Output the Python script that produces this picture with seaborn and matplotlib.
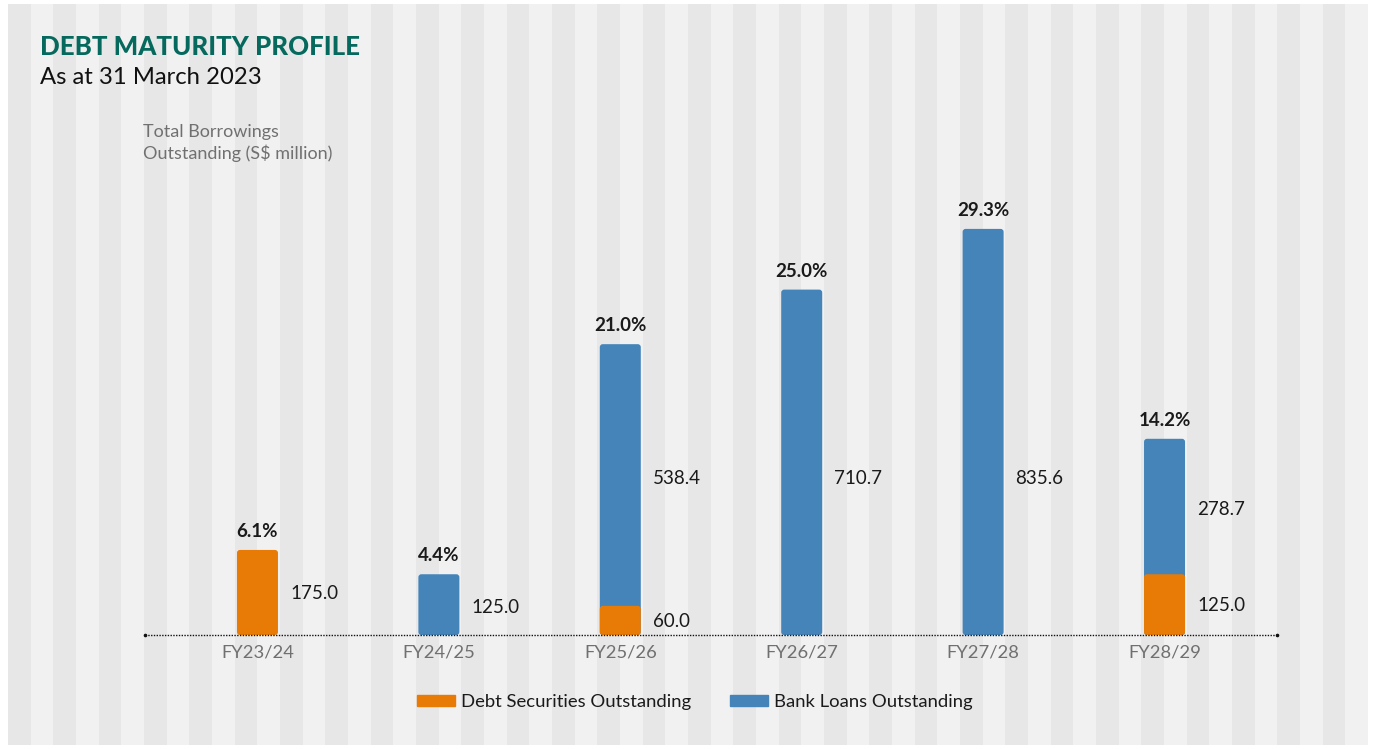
import numpy as np
import matplotlib
matplotlib.use("Agg")
import matplotlib.pyplot as plt
from matplotlib.patches import Rectangle, FancyBboxPatch, Patch
import seaborn as sns

# ---- data ----
years = ["FY23/24", "FY24/25", "FY25/26", "FY26/27", "FY27/28", "FY28/29"]
debt_securities = [175.0, 0.0, 60.0, 0.0, 0.0, 125.0]
bank_loans = [0.0, 125.0, 538.4, 710.7, 835.6, 278.7]
pct_labels = ["6.1%", "4.4%", "21.0%", "25.0%", "29.3%", "14.2%"]
series_names = ["Debt Securities Outstanding", "Bank Loans Outstanding"]

ORANGE = "#E87B05"
BLUE = "#4484B9"
FONT = ["Lato", "DejaVu Sans"]

sns.set_theme(style="white")
plt.rcParams["font.family"] = FONT

W, H = 1375, 749
fig = plt.figure(figsize=(W / 100, H / 100), dpi=100, facecolor="white")

# background stripes
bg = fig.add_axes([0, 0, 1, 1], zorder=-10)
bg.set_xlim(0, W)
bg.set_ylim(H, 0)
bg.axis("off")
sw = (1368 - 8) / 60
for k in range(60):
    bg.add_patch(Rectangle((8 + k * sw, 4), sw + 0.3, 741, lw=0,
                           color="#e7e7e7" if k % 2 == 0 else "#f1f1f1"))

# main axes
left, right = 145 / W, 1277 / W
bottom = (H - 635) / H
top = (H - 155) / H
ax = fig.add_axes([left, bottom, right - left, top - bottom])
ax.set_facecolor("none")

debt = np.array(debt_securities)
bank = np.array(bank_loans)
total = debt + bank

sns.barplot(x=years, y=total, color=BLUE, width=0.226, saturation=1, ax=ax)
sns.barplot(x=years, y=debt, color=ORANGE, width=0.226, saturation=1, ax=ax)

ax.set_xlim(-0.62, 5.62)
ymax = (635 - 155) / 0.486
ax.set_ylim(0, ymax)

# round the bars
px_x = (1277 - 145) / 6.24
px_y = 0.486
r_px = 3.0
patches = list(ax.patches)
for p in patches:
    x0, y0 = p.get_x(), p.get_y()
    w, h = p.get_width(), p.get_height()
    fc = p.get_facecolor()
    p.remove()
    if h <= 0:
        continue
    idx = int(round(x0 + w / 2))
    if np.allclose(fc[:3], matplotlib.colors.to_rgb(BLUE)) and bank[idx] == 0:
        continue
    fb = FancyBboxPatch((x0, y0), w, h,
                        boxstyle=f"round,pad=0,rounding_size={r_px / px_x}",
                        mutation_aspect=px_x / px_y,
                        facecolor=fc, edgecolor="none", zorder=2)
    ax.add_patch(fb)

# labels
LS = 13.5
for i in range(len(years)):
    ax.annotate(pct_labels[i], (i, total[i]), xytext=(0, 10), textcoords="offset pixels",
                ha="center", va="bottom", fontsize=13.5, fontweight="bold", color="#1a1a1a")
    xl = i + 0.113
    if debt[i] > 0:
        ax.annotate(f"{debt[i]:.1f}", (xl, debt[i] / 2), xytext=(12, -1), textcoords="offset pixels",
                    ha="left", va="center", fontsize=LS, color="#1a1a1a")
    if bank[i] > 0:
        ymid = min(debt[i] + bank[i] / 2, 328)
        ax.annotate(f"{bank[i]:.1f}", (xl, ymid), xytext=(12, -3), textcoords="offset pixels",
                    ha="left", va="center", fontsize=LS, color="#1a1a1a")

# baseline
ax.axhline(0, color="#111111", lw=1.0, ls=(0, (1, 1)), zorder=3, clip_on=False)
ax.plot([-0.62, 5.62], [0, 0], ls="none", marker="o", ms=1.6, color="#111111",
        clip_on=False, zorder=3)

sns.despine(ax=ax, left=True, bottom=True)
ax.set_yticks([])
ax.set_xlabel("")
ax.set_ylabel("")
ax.tick_params(axis="x", length=0, pad=7, labelsize=13.2, labelcolor="#707070")

# titles
fig.text(40 / W, 1 - 47 / H, "DEBT MATURITY PROFILE", fontsize=18.6, fontweight="black",
         color="#06695d", ha="left", va="center")
fig.text(40 / W, 1 - 77 / H, "As at 31 March 2023", fontsize=17.2, color="#111111",
         ha="left", va="center")
fig.text(143 / W, 1 - 143 / H, "Total Borrowings\nOutstanding (S$ million)", fontsize=13,
         color="#707070", ha="left", va="center", linespacing=1.25)

handles = [Patch(color=ORANGE), Patch(color=BLUE)]
fig.legend(handles, series_names, loc="center", bbox_to_anchor=(695 / W, 1 - 702 / H),
           ncol=2, frameon=False, fontsize=13.3, handlelength=2.05, handleheight=0.5,
           handletextpad=0.35, columnspacing=2.1, labelcolor="#1a1a1a")

fig.savefig("out.png", dpi=100, facecolor="white")
